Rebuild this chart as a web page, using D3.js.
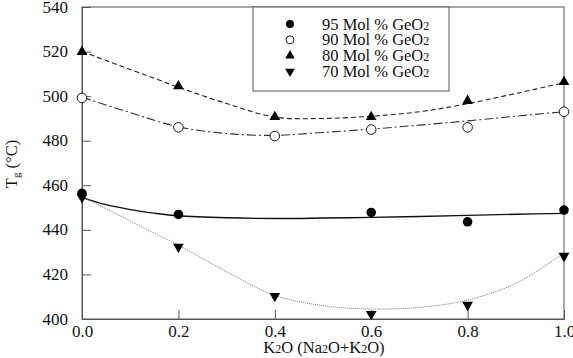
<!DOCTYPE html>
<html>
<head>
<meta charset="utf-8">
<script src="https://cdn.jsdelivr.net/npm/d3@7"></script>
<style>
  body { margin: 0; background: #fff; }
</style>
</head>
<body>
<div id="container"></div>
<script>
// measured points
const xVals = [0, 0.2, 0.4, 0.6, 0.8, 1.0]
const mol95 = [456.4, 446.9, null, 447.8, 443.6, 448.9]
const mol90 = [499.2, 486.0, 482.1, 485.0, 486.0, 493.0]
const mol80 = [519.9, 504.5, 490.7, 490.7, 497.9, 506.4]
const mol70 = [454.6, 432.4, 410.3, 402.2, 406.3, 428.3]

// fitted curves
const fitX = [0, 0.05, 0.1, 0.15, 0.2, 0.3, 0.4, 0.5, 0.6, 0.7, 0.8, 0.9, 1.0]
const fit95 = [454.5, 451.3, 449.1, 447.5, 446.3, 445.4, 445.1, 445.3, 445.6, 446.0, 446.5, 447.0, 447.4]
const fit90 = [499.6, 496.0, 492.6, 489.2, 486.2, 483.2, 482.4, 483.7, 485.2, 487.0, 488.9, 491.0, 493.0]
const fit80 = [520.0, 516.0, 512.0, 508.0, 504.0, 496.7, 490.6, 490.0, 491.0, 493.0, 496.6, 501.2, 506.0]
const fit70 = [455.0, 449.5, 444.0, 438.5, 433.2, 421.2, 410.6, 406.0, 404.5, 405.2, 408.5, 416.0, 429.7]

const xTicks = [0, 0.2, 0.4, 0.6, 0.8, 1.0]
const yTicks = [400, 420, 440, 460, 480, 500, 520, 540]

const legendNames = ['95 Mol % GeO', '90 Mol % GeO', '80 Mol % GeO', '70 Mol % GeO']

const w = 573
const h = 358
const margin = { left: 82, right: 9, top: 7, bottom: 39 }
const serif = "'Liberation Serif', 'Times New Roman', serif"

const series = [
  { name: legendNames[0], pts: mol95, fit: fit95, sym: 'circle', fill: '#000', dash: null, stroke: '#111', sw: 1.4 },
  { name: legendNames[1], pts: mol90, fit: fit90, sym: 'circle', fill: '#fff', dash: '9,3,2,3', stroke: '#333', sw: 1.1 },
  { name: legendNames[2], pts: mol80, fit: fit80, sym: 'up', fill: '#000', dash: '5,3', stroke: '#222', sw: 1.1 },
  { name: legendNames[3], pts: mol70, fit: fit70, sym: 'down', fill: '#000', dash: '1,1', stroke: '#777', sw: 1 }
]

const x = d3.scaleLinear().domain([0, 1]).range([margin.left, w - margin.right])
const y = d3.scaleLinear().domain([400, 540]).range([h - margin.bottom, margin.top])

const svg = d3.select('#container').append('svg')
  .attr('width', w)
  .attr('height', h)
  .style('font-family', serif)

//CURVES
const line = d3.line()
  .x((d, i) => x(fitX[i]))
  .y(d => y(d))
  .curve(d3.curveCatmullRom)

svg.selectAll('path.fit')
  .data(series)
  .enter()
  .append('path')
  .attr('class', 'fit')
  .attr('d', d => line(d.fit))
  .attr('fill', 'none')
  .attr('stroke', d => d.stroke)
  .attr('stroke-width', d => d.sw)
  .attr('stroke-dasharray', d => d.dash)

//FRAME
const axisColor = '#555'
svg.append('rect')
  .attr('x', x(0)).attr('y', y(540))
  .attr('width', x(1) - x(0)).attr('height', y(400) - y(540))
  .attr('fill', 'none').attr('stroke', axisColor).attr('stroke-width', 1)

const yAxis = d3.axisLeft(y).tickValues(yTicks).tickSize(-9).tickPadding(14)
const xAxis = d3.axisBottom(x).tickValues(xTicks).tickSize(-9).tickPadding(6).tickFormat(d3.format('.1f'))

const gy = svg.append('g').attr('transform', `translate(${x(0)},0)`).call(yAxis)
const gx = svg.append('g').attr('transform', `translate(0,${y(400)})`).call(xAxis)
;[gx, gy].forEach(g => {
  g.attr('font-family', null).attr('font-size', null)
  g.select('.domain').attr('stroke', axisColor)
  g.selectAll('.tick line').attr('stroke', axisColor)
  g.selectAll('.tick text')
    .style('font-family', serif)
    .style('font-size', '17px')
    .attr('fill', '#111')
})
gy.selectAll('.tick text').attr('dy', '0.3em')

//MARKERS
function symbolPath(sym, size) {
  if (sym === 'circle') return d3.symbol(d3.symbolCircle, size)()
  return d3.symbol(d3.symbolTriangle, size)()
}

series.forEach(s => {
  const pts = xVals.map((xv, i) => [xv, s.pts[i]]).filter(p => p[1] != null)
  svg.append('g').selectAll('path')
    .data(pts)
    .enter()
    .append('path')
    .attr('d', symbolPath(s.sym, s.sym === 'circle' ? 72 : 50))
    .attr('transform', p => `translate(${x(p[0])},${y(p[1])})` + (s.sym === 'down' ? ' rotate(180)' : ''))
    .attr('fill', s.fill)
    .attr('stroke', '#000')
    .attr('stroke-width', s.fill === '#fff' ? 0.9 : 0)
})

//LEGEND
const lg = svg.append('g')
lg.append('rect')
  .attr('x', 253).attr('y', y(540))
  .attr('width', 196).attr('height', 84)
  .attr('fill', '#fff').attr('stroke', axisColor)

series.forEach((s, i) => {
  const cy = 24 + i * 15.8
  lg.append('path')
    .attr('d', symbolPath(s.sym, s.sym === 'circle' ? 50 : 40))
    .attr('transform', `translate(290,${cy})` + (s.sym === 'down' ? ' rotate(180)' : ''))
    .attr('fill', s.fill)
    .attr('stroke', '#000')
    .attr('stroke-width', s.fill === '#fff' ? 0.9 : 0)
  const t = lg.append('text')
    .attr('x', 322).attr('y', cy + 5.5)
    .style('font-size', '16.5px')
    .attr('fill', '#111')
  t.append('tspan').text(s.name)
  t.append('tspan').style('font-size', '12px').text('2')
})

//AXIS TITLES
const xt = svg.append('text')
  .attr('x', 324).attr('y', 353)
  .attr('text-anchor', 'middle')
  .style('font-size', '16.5px')
  .attr('fill', '#111')
xt.append('tspan').text('K')
xt.append('tspan').style('font-size', '12px').text('2')
xt.append('tspan').text('O (Na')
xt.append('tspan').style('font-size', '12px').text('2')
xt.append('tspan').text('O+K')
xt.append('tspan').style('font-size', '12px').text('2')
xt.append('tspan').text('O)')

const yt = svg.append('text')
  .attr('transform', 'translate(17,164) rotate(-90)')
  .attr('text-anchor', 'middle')
  .style('font-size', '16.5px')
  .attr('fill', '#111')
yt.append('tspan').text('T')
yt.append('tspan').style('font-size', '11px').attr('dy', 3).text('g')
yt.append('tspan').attr('dy', -3).text(' (°C)')
</script>
</body>
</html>
